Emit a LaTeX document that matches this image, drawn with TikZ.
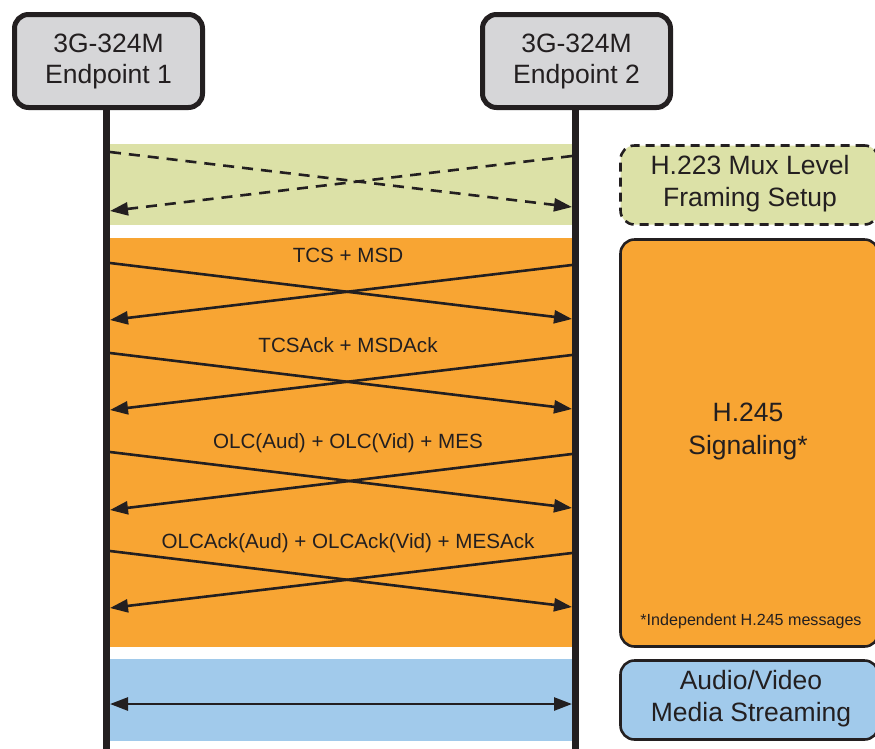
\documentclass[tikz,border=0pt]{standalone}
\usepackage{fontspec}
\setmainfont{Liberation Sans}
\usetikzlibrary{arrows.meta}

\definecolor{ink}{HTML}{231F20}
\definecolor{endgray}{HTML}{D6D6D8}
\definecolor{muxgreen}{HTML}{DCE1A7}
\definecolor{sigorange}{HTML}{F8A533}
\definecolor{mediablue}{HTML}{A1CAEB}

\begin{document}
\begin{tikzpicture}[x=1pt,y=-1pt,
  endpoint/.style={draw=ink, line width=5pt, fill=endgray, rounded corners=14pt,
    minimum width=188pt, minimum height=93pt, inner sep=0pt, align=center,
    text=ink, font=\fontsize{26.5}{31}\selectfont},
  phasebox/.style={draw=ink, line width=2.6pt, rounded corners=14pt,
    minimum width=258pt, inner sep=0pt},
  phasetext/.style={align=center, text=ink, font=\fontsize{26.5}{32.5}\selectfont, inner sep=0pt},
  band/.style={inner sep=0pt, minimum width=469pt},
  lifeline/.style={draw=ink, line width=7pt},
  tip/.style={Triangle[length=18pt,width=13pt]},
  msg/.style={draw=ink, line width=2.6pt, -{Triangle[length=18pt,width=13pt]}},
  muxmsg/.style={msg, dash pattern=on 11pt off 8pt},
  bothways/.style={draw=ink, line width=2.6pt, {Triangle[length=18pt,width=13pt]}-{Triangle[length=18pt,width=13pt]}},
  msglabel/.style={text=ink, font=\fontsize{20.6}{24}\selectfont, inner sep=0pt},
]
\useasboundingbox (0,0) rectangle (875,748);

% phase bands between the two lifelines
\node[band, fill=muxgreen, minimum height=81pt]  (muxband) at (341,184.5) {};
\node[band, fill=sigorange, minimum height=409pt] (sigband) at (341,442.5) {};
\node[band, fill=mediablue, minimum height=82pt]  (medband) at (341,700) {};

% endpoints and their lifelines
\node[endpoint] (ep1) at (108.5,61) {3G-324M\\Endpoint 1};
\node[endpoint] (ep2) at (576.5,61) {3G-324M\\Endpoint 2};
\coordinate (ep1end) at (106.5,750);
\coordinate (ep2end) at (575.5,750);
\draw[lifeline] (ep1.south -| ep1end) -- (ep1end);
\draw[lifeline] (ep2.south -| ep2end) -- (ep2end);

% phase legend on the right
\node[phasebox, fill=muxgreen, minimum height=79pt, dash pattern=on 9pt off 6pt] (muxbox) at (749.5,185) {};
\node[phasetext] (muxtext) at (750,183.5) {H.223 Mux Level\\Framing Setup};
\node[phasebox, fill=sigorange, minimum height=407pt] (sigbox) at (749.5,443) {};
\node[phasetext] (sigtext) at (748,431.5) {H.245\\Signaling*};
\node[text=ink, font=\fontsize{16.1}{19}\selectfont, inner sep=0pt] (signote) at (751,621) {*Independent H.245 messages};
\node[phasebox, fill=mediablue, minimum height=79pt] (medbox) at (749.5,700) {};
\node[phasetext] (medtext) at (751,698.5) {Audio/Video\\Media Streaming};

% H.223 framing exchange
\coordinate (m0a) at (110,152);  \coordinate (m0b) at (572,207);
\coordinate (m0c) at (572,156);  \coordinate (m0d) at (110,211);
\draw[muxmsg] (m0a) -- (m0b);
\draw[muxmsg] (m0c) -- (m0d);

% H.245 exchanges
\foreach \i/\la/\rb/\rc/\ld/\ly/\txt in {
  1/263/319/265/320/255/{TCS + MSD},
  2/353/409/355/410/345/{TCSAck + MSDAck},
  3/452/508/454/510/443/{OLC(Aud) + OLC(Vid) + MES},
  4/551/607/553/608/543/{OLCAck(Aud) + OLCAck(Vid) + MESAck}}{
  \coordinate (s\i a) at (110,\la);
  \coordinate (s\i b) at (572,\rb);
  \coordinate (s\i c) at (572,\rc);
  \coordinate (s\i d) at (110,\ld);
  \node[msglabel] (lab\i) at (348,\ly) {\txt};
  \draw[msg] (s\i a) -- (s\i b);
  \draw[msg] (s\i c) -- (s\i d);
}

% media streaming
\coordinate (mda) at (110,704);
\coordinate (mdb) at (572,704);
\draw[bothways] (mda) -- (mdb);
\end{tikzpicture}
\end{document}
